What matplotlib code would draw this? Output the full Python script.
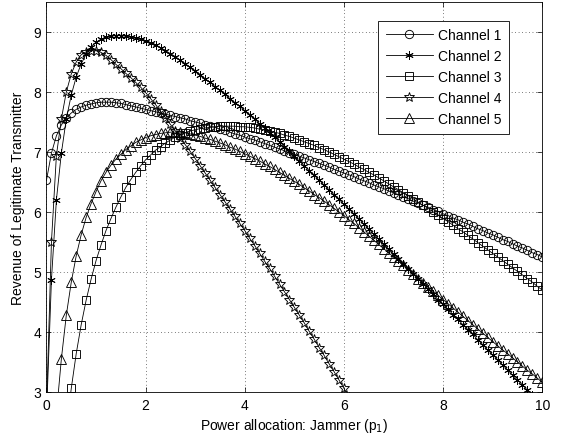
import numpy as np
import matplotlib
matplotlib.use("Agg")
import matplotlib.pyplot as plt

plt.rcParams['font.family'] = ['Liberation Sans', 'DejaVu Sans']
plt.rcParams['font.size'] = 10

nan = float('nan')

# jammer power, sampled every 0.1
p1 = np.linspace(0, 10, 101)

# revenue, one value per marker
channel_1 = [6.53, 6.98, 7.27, 7.45, 7.57, 7.65, 7.71, 7.75, 7.78, 7.80,
             7.82, 7.83, 7.83, 7.83, 7.82, 7.81, 7.79, 7.77, 7.75, 7.73,
             7.71, 7.69, 7.67, 7.65, 7.63, 7.61, 7.59, 7.57, 7.55, 7.52,
             7.50, 7.48, 7.45, 7.43, 7.41, 7.38, 7.36, 7.33, 7.30, 7.28,
             7.25, 7.22, 7.20, 7.17, 7.14, 7.11, 7.08, 7.05, 7.02, 6.99,
             6.96, 6.93, 6.90, 6.87, 6.84, 6.81, 6.78, 6.75, 6.71, 6.68,
             6.65, 6.62, 6.59, 6.55, 6.52, 6.49, 6.45, 6.42, 6.39, 6.35,
             6.32, 6.29, 6.25, 6.22, 6.18, 6.15, 6.11, 6.08, 6.04, 6.01,
             5.97, 5.94, 5.90, 5.87, 5.83, 5.80, 5.76, 5.72, 5.69, 5.65,
             5.62, 5.58, 5.54, 5.51, 5.47, 5.43, 5.40, 5.36, 5.32, 5.29,
             5.25]

channel_2 = [2.60, 4.87, 6.20, 6.98, 7.55, 7.95, 8.25, 8.47, 8.63, 8.75,
             8.83, 8.88, 8.91, 8.93, 8.94, 8.94, 8.93, 8.92, 8.90, 8.88,
             8.85, 8.82, 8.78, 8.74, 8.69, 8.64, 8.59, 8.53, 8.47, 8.41,
             8.35, 8.29, 8.22, 8.16, 8.09, 8.03, 7.96, 7.89, 7.82, 7.76,
             7.69, 7.62, 7.55, 7.47, 7.40, 7.32, 7.25, 7.17, 7.09, 7.01,
             6.93, 6.85, 6.77, 6.69, 6.61, 6.53, 6.45, 6.37, 6.29, 6.21,
             6.13, 6.05, 5.97, 5.89, 5.80, 5.72, 5.63, 5.55, 5.47, 5.38,
             5.30, 5.21, 5.13, 5.05, 4.96, 4.88, 4.80, 4.71, 4.63, 4.54,
             4.46, 4.38, 4.29, 4.21, 4.12, 4.04, 3.96, 3.87, 3.79, 3.70,
             3.62, 3.54, 3.45, 3.37, 3.28, 3.20, 3.12, 3.03, 2.95, nan,
             nan]

channel_3 = [nan, nan, nan, nan, 2.35, 3.06, 3.64, 4.12, 4.53, 4.88,
             5.19, 5.45, 5.69, 5.89, 6.08, 6.25, 6.41, 6.54, 6.66, 6.77,
             6.87, 6.95, 7.03, 7.09, 7.15, 7.20, 7.25, 7.29, 7.32, 7.35,
             7.37, 7.39, 7.40, 7.41, 7.42, 7.43, 7.43, 7.43, 7.43, 7.42,
             7.42, 7.41, 7.40, 7.38, 7.37, 7.35, 7.33, 7.31, 7.28, 7.26,
             7.23, 7.20, 7.17, 7.14, 7.11, 7.07, 7.04, 7.00, 6.96, 6.92,
             6.88, 6.84, 6.80, 6.75, 6.71, 6.66, 6.62, 6.57, 6.52, 6.47,
             6.42, 6.37, 6.32, 6.27, 6.22, 6.16, 6.11, 6.06, 6.00, 5.95,
             5.89, 5.84, 5.78, 5.72, 5.67, 5.61, 5.55, 5.49, 5.43, 5.37,
             5.31, 5.25, 5.19, 5.13, 5.07, 5.01, 4.95, 4.89, 4.83, 4.76,
             4.70]

# below the axis after p1 = 6.1, not shown
channel_4 = [2.70, 5.50, 6.94, 7.55, 8.00, 8.30, 8.50, 8.62, 8.67, 8.69,
             8.69, 8.66, 8.61, 8.54, 8.46, 8.39, 8.31, 8.24, 8.16, 8.08,
             7.99, 7.89, 7.79, 7.68, 7.57, 7.46, 7.35, 7.24, 7.12, 7.01,
             6.89, 6.77, 6.65, 6.53, 6.41, 6.29, 6.17, 6.05, 5.93, 5.81,
             5.69, 5.56, 5.44, 5.31, 5.18, 5.06, 4.93, 4.80, 4.67, 4.54,
             4.41, 4.28, 4.15, 4.01, 3.88, 3.74, 3.61, 3.47, 3.34, 3.20,
             3.06, 2.92] + [nan] * 39

channel_5 = [nan, nan, 2.63, 3.55, 4.28, 4.83, 5.27, 5.62, 5.91, 6.14,
             6.34, 6.52, 6.66, 6.78, 6.88, 6.96, 7.04, 7.10, 7.16, 7.20,
             7.24, 7.27, 7.29, 7.31, 7.32, 7.33, 7.33, 7.33, 7.32, 7.30,
             7.28, 7.26, 7.23, 7.21, 7.18, 7.15, 7.12, 7.08, 7.05, 7.01,
             6.97, 6.93, 6.89, 6.85, 6.80, 6.76, 6.71, 6.66, 6.61, 6.56,
             6.51, 6.46, 6.40, 6.35, 6.29, 6.24, 6.18, 6.12, 6.06, 6.00,
             5.94, 5.87, 5.81, 5.74, 5.67, 5.60, 5.53, 5.46, 5.39, 5.32,
             5.25, 5.18, 5.11, 5.04, 4.97, 4.89, 4.82, 4.75, 4.68, 4.61,
             4.54, 4.47, 4.40, 4.33, 4.26, 4.19, 4.12, 4.05, 3.98, 3.91,
             3.84, 3.77, 3.70, 3.64, 3.57, 3.50, 3.43, 3.36, 3.30, 3.23,
             3.16]

series = [channel_1, channel_2, channel_3, channel_4, channel_5]
labels = ['Channel 1', 'Channel 2', 'Channel 3', 'Channel 4', 'Channel 5']
markers = ['o', (6, 2, 0), 's', '*', '^']
msizes = [6, 6, 5.5, 7.5, 6.5]

fig = plt.figure(figsize=(5.62, 4.39), dpi=100)
ax = fig.add_axes([0.0827, 0.1048, 0.8822, 0.8884])

for y, lab, m, ms in zip(series, labels, markers, msizes):
    ax.plot(p1, y, color='black', linewidth=0.6, marker=m, markersize=ms,
            markerfacecolor='none', markeredgecolor='black',
            markeredgewidth=0.65, label=lab)

ax.set_xlim(0, 10)
ax.set_ylim(3, 9.5)
ax.set_xticks([0, 2, 4, 6, 8, 10])
ax.set_yticks([3, 4, 5, 6, 7, 8, 9])
ax.tick_params(direction='in', length=3.5, width=0.5, top=True, right=True,
               labelsize=10, pad=4)
ax.grid(True, color='black', linestyle=(0, (1, 4)), linewidth=0.5)
for s in ax.spines.values():
    s.set_linewidth(0.6)

ax.set_xlabel('Power allocation: Jammer (p$_1$)', fontsize=10, labelpad=3)
ax.set_ylabel('Revenue of Legitimate Transmitter', fontsize=10, labelpad=6)

leg = ax.legend(loc='upper right', bbox_to_anchor=(0.933, 0.952),
                borderaxespad=0, fancybox=False, framealpha=1,
                edgecolor='black', handlelength=3.4, labelspacing=0.5,
                handletextpad=0.35, borderpad=0.55, fontsize=10)
leg.get_frame().set_linewidth(0.6)

fig.savefig('out.png', dpi=100)
